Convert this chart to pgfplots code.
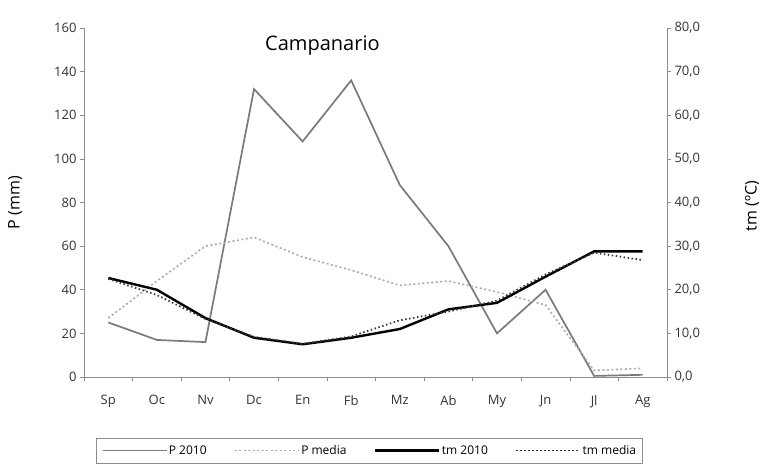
\documentclass[border=0pt]{standalone}
\usepackage{fontspec}
\setmainfont{Open Sans}
\usepackage{pgfplots}
\pgfplotsset{compat=1.18}
\definecolor{axgray}{HTML}{8C8C8C}
\definecolor{pgray}{HTML}{7A7A7A}
\definecolor{lgray}{HTML}{ABABAB}
\definecolor{dgray}{HTML}{3A3A3A}
\begin{document}
\begin{tikzpicture}
\path[use as bounding box] (0,0) rectangle (763pt,467pt);
\pgfplotsset{
  every axis/.append style={
    scale only axis, width=583pt, height=349pt,
    at={(84pt,90pt)}, anchor=south west,
    xmin=-0.5, xmax=11.5,
    axis line style={axgray, line width=0.8pt},
    every tick/.style={axgray, line width=0.6pt},
    major tick length=4pt,
    tick align=outside,
    tick label style={font=\fontsize{13}{15}\selectfont, text=black!80},
    /pgf/number format/assume math mode=true,
  }
}
\begin{axis}[
  axis x line*=bottom, axis y line*=left,
  ymin=0, ymax=160, ytick={0,20,...,160},
  xtick={-0.5,0.5,...,11.5},
  xticklabels={Sp,Oc,Nv,Dc,En,Fb,Mz,Ab,My,Jn,Jl,Ag},
  x tick label as interval=true,
  xticklabel style={yshift=-11pt},
  ylabel={P (mm)},
  ylabel style={at={(axis description cs:-0.118,0.5)}, anchor=center, font=\fontsize{16}{18}\selectfont},
]
\addplot[pgray, line width=1.7pt] coordinates {
(0,25) (1,17) (2,16) (3,132) (4,108) (5,136) (6,88) (7,60) (8,20) (9,40) (10,0.5) (11,1)};
\addplot[lgray, line width=1.6pt, dash pattern=on 2pt off 2.5pt] coordinates {
(0,27) (1,44) (2,60) (3,64) (4,55) (5,49) (6,42) (7,44) (8,39) (9,33) (10,3) (11,4)};
\node[font=\fontsize{20}{22}\selectfont] at (axis description cs:0.409,0.951) {Campanario};
\end{axis}
\begin{axis}[
  axis x line=none, axis y line*=right,
  ymin=0, ymax=80, ytick={0,10,...,80},
  yticklabel style={/pgf/number format/.cd, fixed, fixed zerofill, precision=1, use comma},
  ylabel={tm (ºC)},
  ylabel style={at={(axis description cs:1.146,0.49)}, anchor=center, font=\fontsize{16}{18}\selectfont},
  legend columns=4,
  legend style={at={(axis description cs:0.49,-0.175)}, anchor=north, draw=axgray,
    font=\fontsize{12}{14}\selectfont, inner sep=5pt,
    nodes={inner xsep=1.5pt},
    /tikz/every even column/.append style={column sep=26pt}},
  legend image code/.code={\draw[#1] (0pt,0pt) -- (64pt,0pt);},
]
\addlegendimage{pgray, line width=1.7pt}
\addlegendentry{P 2010}
\addlegendimage{lgray, line width=1.6pt, dash pattern=on 2pt off 2.5pt}
\addlegendentry{P media}
\addplot[black, line width=2.4pt] coordinates {
(0,22.7) (1,20) (2,13.5) (3,9) (4,7.5) (5,9) (6,11) (7,15.5) (8,17) (9,23) (10,28.8) (11,28.8)};
\addlegendentry{tm 2010}
\addplot[dgray, line width=1.8pt, dash pattern=on 1.5pt off 2.5pt] coordinates {
(0,22.5) (1,18.8) (2,13.3) (3,9.2) (4,7.6) (5,9.3) (6,13) (7,15) (8,17.5) (9,23.5) (10,28.5) (11,26.8)};
\addlegendentry{tm media}
\end{axis}
\end{tikzpicture}
\end{document}
